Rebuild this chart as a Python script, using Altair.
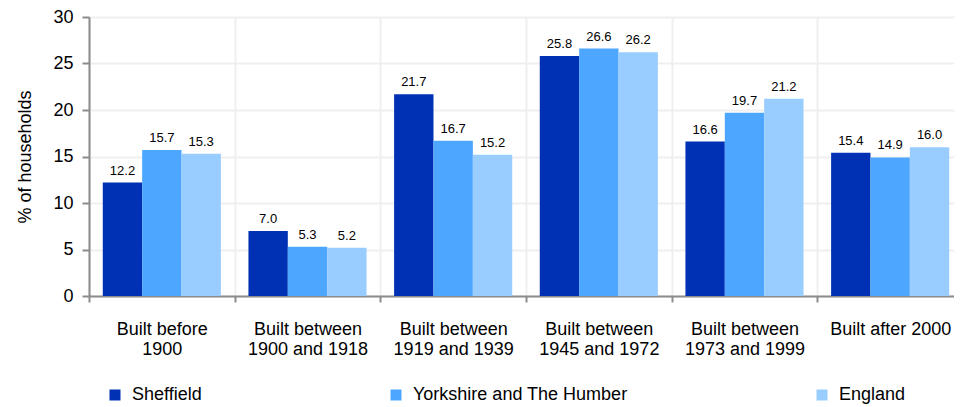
import altair as alt
import pandas as pd

categories = ["Built before\n1900", "Built between\n1900 and 1918", "Built between\n1919 and 1939",
              "Built between\n1945 and 1972", "Built between\n1973 and 1999", "Built after 2000"]
series = ["Sheffield", "Yorkshire and The Humber", "England"]
sheffield = [12.2, 7.0, 21.7, 25.8, 16.6, 15.4]
yorkshire = [15.7, 5.3, 16.7, 26.6, 19.7, 14.9]
england = [15.3, 5.2, 15.2, 26.2, 21.2, 16.0]
colors = ["#0030B4", "#4DA6FF", "#99CCFF"]

rows = []
for s, vals in zip(series, [sheffield, yorkshire, england]):
    for c, v in zip(categories, vals):
        rows.append({"category": c, "series": s, "value": v})
df = pd.DataFrame(rows)

FONT = "Liberation Sans"

x = alt.X("category:N", sort=categories, title=None,
          scale=alt.Scale(paddingInner=0, paddingOuter=0, range=[0, 874]),
          axis=alt.Axis(labelExpr="split(datum.label, '\\n')", labelAngle=0,
                        tickBand="extent", grid=True, gridColor="#EFEFEF", gridWidth=2,
                        domainColor="#8C8C8C", domainWidth=2, tickColor="#8C8C8C", tickWidth=2,
                        tickSize=6, labelPadding=18, labelFontSize=18, labelLineHeight=20,
                        labelColor="#000000", labelFont=FONT, labelBaseline="top"))
xo = alt.XOffset("series:N", sort=series,
                 scale=alt.Scale(paddingInner=0, paddingOuter=0.35))
y = alt.Y("value:Q", title="% of households",
          scale=alt.Scale(domain=[0, 30], nice=False),
          axis=alt.Axis(values=[0, 5, 10, 15, 20, 25, 30], grid=True, gridColor="#EFEFEF",
                        gridWidth=2, domainColor="#8C8C8C", domainWidth=2, tickColor="#8C8C8C",
                        tickWidth=2, tickSize=7, labelPadding=9, labelFontSize=18,
                        labelColor="#000000", labelFont=FONT, titleFont=FONT,
                        titleFontSize=18, titleFontWeight="normal", titleColor="#000000",
                        titlePadding=18))

color = alt.Color("series:N", sort=series,
                  scale=alt.Scale(domain=series, range=colors),
                  legend=alt.Legend(title=None, orient="none", direction="horizontal",
                                    legendX=17, legendY=369, symbolType="square",
                                    symbolSize=121, symbolStrokeWidth=0, symbolOpacity=1,
                                    labelFontSize=18, labelFont=FONT, labelColor="#000000",
                                    columnPadding=185, labelOffset=8, labelLimit=400))

bars = alt.Chart(df).mark_bar(opacity=1).encode(x=x, xOffset=xo, y=y, color=color)
labels = alt.Chart(df).mark_text(baseline="bottom", dy=-5, fontSize=13, font=FONT,
                                 color="#000000").encode(
    x=alt.X("category:N", sort=categories),
    xOffset=alt.XOffset("series:N", sort=series),
    y="value:Q",
    text=alt.Text("value:Q", format=".1f"))

chart = alt.layer(bars, labels).properties(
    width=865, height=279,
    autosize=alt.AutoSizeParams(type="none"),
    padding={"left": 81, "top": 9, "right": 0, "bottom": 111},
).configure_view(stroke=None).configure(background="white")

chart.save("out.html", embed_options={"renderer": "svg", "actions": False})
